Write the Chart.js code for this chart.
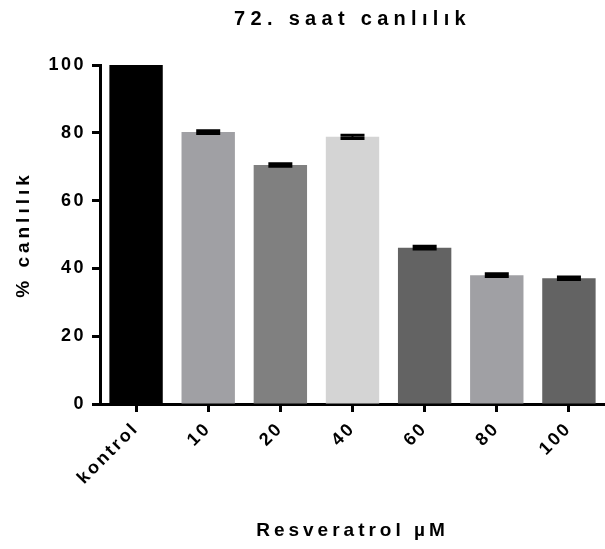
<!DOCTYPE html>
<html>
<head>
<meta charset="utf-8">
<script src="https://cdn.jsdelivr.net/npm/chart.js@4.4.1/dist/chart.umd.min.js"></script>
<style>
  html, body { margin: 0; padding: 0; background: #fff; }
  #wrap { width: 605px; height: 549px; }
</style>
</head>
<body>
<div id="wrap"><canvas id="chart" width="605" height="549"></canvas></div>
<script>
const categories = ["kontrol", "10", "20", "40", "60", "80", "100"];
const viability = [100, 80.2, 70.5, 78.8, 46.1, 38.0, 37.1];
const errors = [0, 0.4, 0.4, 0.5, 0.4, 0.4, 0.4];
const barColors = ["#000000", "#a0a0a4", "#808080", "#d4d4d4", "#636363", "#a0a0a4", "#636363"];

const FONT = "'Liberation Sans', Arial, sans-serif";

// the original plot uses wide tracking; pick it by font size
const spacing = { 20: "5.3px", 19: "4px", 18: "2.5px" };
const canvas = document.getElementById("chart");
const c2d = canvas.getContext("2d");
const origFill = c2d.fillText.bind(c2d);
const origMeasure = c2d.measureText.bind(c2d);
function setSpacing() {
  const m = /(\d+)px/.exec(c2d.font);
  c2d.letterSpacing = (m && spacing[m[1]]) || "0px";
}
c2d.fillText = function (t, x, y, w) { setSpacing(); return w === undefined ? origFill(t, x, y) : origFill(t, x, y, w); };
c2d.measureText = function (t) { setSpacing(); return origMeasure(t); };

const errorBars = {
  id: "errorBars",
  afterDatasetsDraw(chart) {
    const ctx = chart.ctx;
    const y = chart.scales.y;
    const meta = chart.getDatasetMeta(0);
    ctx.save();
    ctx.strokeStyle = "#000";
    meta.data.forEach((bar, i) => {
      if (!errors[i]) return;
      const hi = y.getPixelForValue(viability[i] + errors[i]);
      const lo = y.getPixelForValue(viability[i] - errors[i]);
      ctx.lineWidth = 2;
      ctx.beginPath();
      ctx.moveTo(bar.x, hi);
      ctx.lineTo(bar.x, lo);
      ctx.stroke();
      ctx.lineWidth = 3;
      ctx.beginPath();
      ctx.moveTo(bar.x - 12, hi);
      ctx.lineTo(bar.x + 12, hi);
      ctx.moveTo(bar.x - 12, lo);
      ctx.lineTo(bar.x + 12, lo);
      ctx.stroke();
    });
    ctx.restore();
  }
};

new Chart(c2d, {
  type: "bar",
  data: {
    labels: categories,
    datasets: [{
      data: viability,
      backgroundColor: barColors,
      borderWidth: 0,
      categoryPercentage: 1,
      barPercentage: 0.74
    }]
  },
  options: {
    responsive: false,
    animation: false,
    layout: { padding: 0 },
    plugins: {
      legend: { display: false },
      tooltip: { enabled: false },
      title: {
        display: true,
        fullSize: false,
        text: "72. saat canlılık",
        color: "#000",
        font: { family: FONT, size: 20, weight: "bold" },
        padding: { top: 7, bottom: 34 }
      }
    },
    scales: {
      x: {
        offset: true,
        afterFit(s) { s.height = 145; },
        grid: { display: true, drawOnChartArea: false, offset: false, tickLength: 8, tickWidth: 3, tickColor: "#000" },
        border: { display: true, color: "#000", width: 3 },
        ticks: {
          color: "#000",
          font: { family: FONT, size: 18, weight: "bold" },
          minRotation: 45, maxRotation: 45, padding: 6
        },
        title: {
          display: true,
          text: "Resveratrol µM",
          color: "#000",
          font: { family: FONT, size: 19, weight: "bold" },
          padding: { top: 0, bottom: 7 }
        }
      },
      y: {
        min: 0, max: 100,
        afterFit(s) { s.width = 100; },
        grid: { display: true, drawOnChartArea: false, tickLength: 8, tickWidth: 3, tickColor: "#000" },
        border: { display: true, color: "#000", width: 3 },
        ticks: {
          stepSize: 20,
          color: "#000",
          font: { family: FONT, size: 18, weight: "bold" },
          padding: 6
        },
        title: {
          display: true,
          text: "% canlılık",
          color: "#000",
          font: { family: FONT, size: 19, weight: "bold" },
          padding: { top: 12, bottom: 0 }
        }
      }
    }
  },
  plugins: [errorBars]
});
</script>
</body>
</html>
